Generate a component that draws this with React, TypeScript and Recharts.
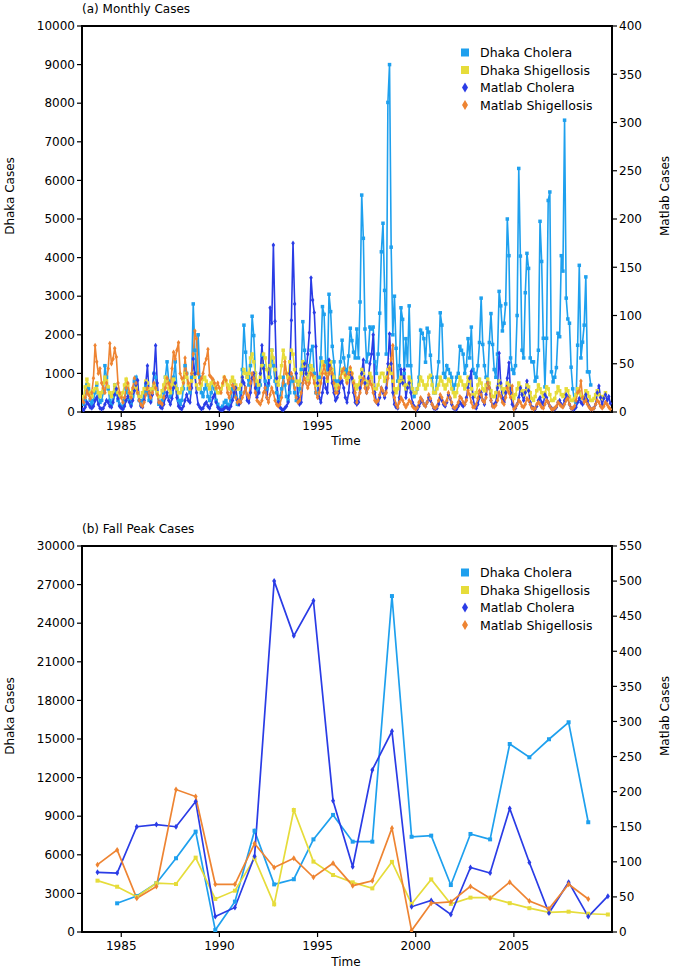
import React from 'react';
import { LineChart, Line, XAxis, YAxis, ReferenceArea } from 'recharts';

const FONT = '"DejaVu Sans", sans-serif';
const C_DC = '#1EA0EE';
const C_DS = '#E6DC3A';
const C_MC = '#2A3CE6';
const C_MS = '#EE8432';

// ---------- (a) Monthly cases, Jan 1983 .. Dec 2009 ----------
const monthlyStartYear = 1983;
// Dhaka cholera (left axis), one row per year
const dhakaCholeraMonthly: (number | null)[] = [
  300, 200, 300, 700, 600, 300, 200, 300, 500, 700, 400, 250, // 1983
  300, 500, 1200, 900, 600, 300, 200, 400, 700, 500, 300, 200, // 1984
  150, 100, 300, 600, 500, 300, 200, 400, 800, 900, 500, 300, // 1985
  200, 300, 500, 700, 500, 300, 300, 600, 1000, 900, 500, 200, // 1986
  200, 300, 500, 900, 1300, 800, 400, 500, 900, 1300, 600, 300, // 1987
  200, 300, 600, 1200, 1000, 600, 500, 900, 2800, 1600, 1000, 2000, // 1988
  900, 500, 400, 600, 700, 400, 300, 500, 800, 600, 300, 200, // 1989
  100, 100, 150, 250, 300, 200, 150, 300, 600, 700, 400, 200, // 1990
  300, 500, 1100, 2250, 1550, 900, 700, 1200, 2480, 1980, 1000, 600, // 1991
  500, 700, 1470, 1200, 800, 600, 700, 900, 1600, 1200, 800, 500, // 1992
  300, 400, 600, 900, 700, 400, 300, 500, 900, 800, 500, 300, // 1993
  400, 600, 1100, 2340, 1600, 1000, 800, 1200, 1600, 1700, 1000, 500, // 1994
  500, 900, 1400, 2730, 2530, 1300, 1000, 3050, 2600, 1700, 1300, 800, // 1995
  600, 800, 1300, 1860, 1400, 1100, 1000, 1450, 2170, 1850, 1550, 1400, // 1996
  2150, 1400, 2850, 5620, 4500, 2150, 1300, 1500, 2200, 2150, 2200, 1300, // 1997
  1000, 1500, 2560, 4150, 4890, 3150, 1500, 8020, 9000, 4270, 2000, 3000, // 1998
  1650, 800, 1200, 2700, 2400, 1000, 1900, 1200, 2750, 1200, 600, 400, // 1999
  500, 600, 900, 2120, 2040, 1900, 1290, 2170, 2070, 1470, 900, 500, // 2000
  500, 900, 1300, 2570, 2250, 1000, 900, 1200, 1100, 1000, 900, 600, // 2001
  700, 900, 1000, 1700, 1600, 1500, 1000, 1200, 1900, 1400, 2200, 1100, // 2002
  1000, 900, 1200, 1800, 2950, 1750, 1200, 900, 750, 1800, 2550, 1750, // 2003
  1100, 900, 1500, 3125, 2750, 2100, 2300, 2800, 5000, 4050, 1400, 1100, // 2004
  1000, 1200, 2500, 6310, 4040, 1600, 1400, 3090, 4110, 3720, 1400, 1300, // 2005
  1300, 800, 900, 1600, 4940, 3900, 1910, 650, 1910, 5480, 5700, 1040, // 2006
  780, 900, 1150, 2040, 1950, 4050, 3650, 7560, 2950, 2410, 2300, 1160, // 2007
  600, 300, 250, 1730, 3800, 1400, 1810, 2250, 3500, 1040, 1040, 700, // 2008
  null, null, null, null, null, null, null, null, null, null, null, null, // 2009
];
// Dhaka shigellosis (left axis)
const dhakaShigellosisMonthly: (number | null)[] = [
  300, 400, 650, 850, 700, 500, 400, 550, 600, 750, 500, 400, // 1983
  500, 750, 900, 800, 650, 500, 400, 500, 700, 600, 500, 400, // 1984
  400, 500, 700, 850, 700, 500, 400, 550, 600, 650, 500, 400, // 1985
  400, 500, 600, 800, 750, 600, 500, 600, 700, 600, 500, 400, // 1986
  400, 550, 700, 900, 800, 600, 500, 700, 850, 700, 600, 500, // 1987
  500, 600, 800, 1000, 900, 700, 600, 800, 1000, 900, 700, 600, // 1988
  600, 700, 850, 900, 800, 700, 600, 750, 800, 700, 600, 500, // 1989
  500, 600, 700, 900, 800, 700, 600, 800, 900, 800, 700, 600, // 1990
  600, 700, 900, 1100, 1000, 900, 1000, 1400, 1500, 1300, 1000, 800, // 1991
  700, 900, 1200, 1500, 1400, 1100, 900, 1200, 1600, 1400, 1100, 800, // 1992
  700, 900, 1200, 1600, 1400, 1000, 900, 1300, 1600, 1500, 1100, 800, // 1993
  700, 800, 1000, 1300, 1200, 1000, 800, 1000, 1200, 1100, 900, 700, // 1994
  700, 800, 1000, 1300, 1200, 1000, 800, 1000, 1300, 1100, 900, 700, // 1995
  600, 700, 900, 1100, 1000, 900, 800, 900, 1100, 1000, 800, 700, // 1996
  600, 700, 900, 1100, 1000, 800, 700, 800, 1000, 900, 700, 600, // 1997
  600, 700, 900, 1000, 1000, 800, 900, 1100, 1200, 1000, 800, 600, // 1998
  500, 600, 800, 900, 800, 700, 600, 700, 900, 800, 600, 500, // 1999
  500, 600, 700, 900, 800, 700, 600, 700, 900, 950, 700, 500, // 2000
  500, 600, 700, 900, 800, 700, 600, 700, 850, 800, 600, 500, // 2001
  400, 500, 700, 900, 800, 700, 600, 700, 900, 800, 600, 450, // 2002
  400, 500, 700, 850, 750, 600, 550, 700, 850, 750, 550, 400, // 2003
  400, 500, 650, 800, 700, 600, 500, 600, 750, 700, 500, 400, // 2004
  350, 450, 600, 750, 650, 550, 450, 550, 700, 650, 500, 350, // 2005
  300, 400, 550, 700, 600, 500, 400, 500, 650, 600, 450, 300, // 2006
  300, 350, 500, 650, 550, 450, 400, 450, 600, 550, 400, 300, // 2007
  300, 350, 450, 600, 500, 400, 350, 400, 550, 500, 400, 300, // 2008
  300, 350, 450, 550, 450, 400, 350, 400, 500, null, null, null, // 2009
];
// Matlab cholera (right axis)
const matlabCholeraMonthly: (number | null)[] = [
  3, 2, 5, 10, 8, 5, 4, 6, 12, 15, 8, 4, // 1983
  3, 4, 8, 12, 10, 6, 5, 10, 18, 24, 14, 6, // 1984
  4, 3, 6, 12, 16, 10, 6, 12, 22, 28, 33, 12, // 1985
  6, 5, 12, 30, 48, 20, 10, 18, 40, 69, 30, 10, // 1986
  5, 4, 8, 15, 20, 12, 8, 14, 25, 30, 15, 6, // 1987
  4, 3, 6, 12, 18, 12, 10, 25, 55, 40, 20, 8, // 1988
  5, 3, 4, 8, 10, 6, 4, 8, 15, 18, 10, 5, // 1989
  3, 2, 2, 4, 5, 4, 3, 6, 12, 20, 25, 12, // 1990
  8, 10, 36, 30, 25, 12, 10, 20, 35, 40, 25, 15, // 1991
  20, 40, 69, 45, 25, 15, 30, 108, 92, 173, 94, 35, // 1992
  10, 5, 3, 2, 4, 6, 10, 40, 95, 175, 112, 40, // 1993
  15, 8, 10, 30, 50, 40, 60, 82, 139, 116, 103, 68, // 1994
  30, 15, 10, 20, 35, 25, 20, 54, 45, 30, 20, 12, // 1995
  15, 20, 30, 32, 25, 15, 10, 20, 40, 35, 20, 10, // 1996
  8, 10, 25, 40, 54, 30, 20, 35, 50, 60, 80, 20, // 1997
  10, 8, 15, 25, 20, 15, 25, 50, 81, 50, 20, 8, // 1998
  5, 4, 15, 44, 30, 44, 15, 25, 30, 20, 10, 6, // 1999
  4, 3, 6, 10, 12, 8, 6, 10, 15, 12, 8, 4, // 2000
  3, 4, 8, 15, 12, 8, 6, 10, 18, 14, 8, 4, // 2001
  3, 3, 6, 10, 8, 6, 8, 15, 25, 35, 42, 15, // 2002
  6, 4, 8, 15, 20, 12, 8, 18, 30, 25, 12, 6, // 2003
  8, 10, 25, 61, 30, 15, 10, 20, 35, 51, 20, 8, // 2004
  5, 4, 8, 15, 25, 18, 12, 20, 32, 22, 10, 5, // 2005
  4, 3, 6, 12, 15, 10, 8, 18, 15, 10, 6, 4, // 2006
  3, 3, 5, 10, 12, 8, 6, 12, 18, 15, 8, 4, // 2007
  3, 3, 5, 10, 14, 10, 8, 14, 18, 12, 6, 3, // 2008
  3, 4, 8, 20, 27, 15, 8, 14, 18, 12, 16, 9, // 2009
];
// Matlab shigellosis (right axis)
const matlabShigellosisMonthly: (number | null)[] = [
  12, 10, 15, 22, 18, 14, 20, 35, 69, 52, 40, 45, // 1983
  30, 25, 20, 30, 45, 71, 50, 55, 66, 57, 30, 20, // 1984
  15, 10, 15, 25, 30, 20, 15, 25, 35, 30, 20, 12, // 1985
  8, 6, 10, 18, 25, 20, 15, 20, 30, 25, 18, 10, // 1986
  10, 8, 15, 25, 35, 30, 25, 45, 62, 55, 64, 72, // 1987
  40, 35, 30, 56, 40, 30, 25, 40, 60, 84, 76, 40, // 1988
  30, 35, 40, 50, 55, 65, 38, 36, 34, 30, 25, 30, // 1989
  25, 20, 30, 36, 33, 20, 15, 20, 28, 25, 15, 10, // 1990
  12, 10, 15, 20, 25, 18, 15, 30, 40, 35, 20, 12, // 1991
  10, 8, 12, 20, 25, 15, 10, 18, 25, 20, 12, 8, // 1992
  6, 8, 15, 30, 52, 40, 30, 35, 40, 35, 25, 15, // 1993
  10, 12, 20, 30, 35, 30, 25, 30, 40, 38, 30, 20, // 1994
  15, 20, 30, 40, 48, 40, 35, 40, 45, 40, 30, 20, // 1995
  20, 25, 35, 42, 45, 38, 30, 40, 46, 40, 30, 20, // 1996
  10, 15, 20, 30, 35, 25, 20, 25, 32, 28, 20, 12, // 1997
  10, 12, 18, 25, 22, 18, 20, 35, 45, 55, 69, 15, // 1998
  8, 5, 10, 15, 12, 8, 5, 8, 12, 10, 6, 4, // 1999
  3, 5, 10, 15, 12, 8, 6, 10, 18, 14, 8, 5, // 2000
  4, 6, 12, 18, 15, 10, 8, 12, 20, 15, 10, 5, // 2001
  4, 6, 10, 16, 14, 10, 8, 12, 22, 18, 10, 5, // 2002
  5, 8, 14, 22, 18, 12, 10, 15, 30, 25, 12, 6, // 2003
  5, 7, 12, 20, 16, 10, 8, 15, 25, 20, 15, 27, // 2004
  3, 5, 8, 12, 10, 6, 5, 8, 14, 12, 8, 4, // 2005
  3, 4, 8, 10, 8, 5, 4, 8, 12, 10, 6, 3, // 2006
  3, 4, 6, 10, 8, 6, 5, 8, 12, 14, 8, 4, // 2007
  4, 6, 12, 20, 22, 32, 15, 10, 12, 8, 5, 3, // 2008
  3, 4, 8, 12, 10, 6, 4, 6, 10, 8, 5, 3, // 2009
];

// ---------- (b) Fall peak cases, one per year 1983 .. 2009 ----------
const peakYears = [
  1983, 1984, 1985, 1986, 1987, 1988, 1989, 1990, 1991, 1992, 1993, 1994, 1995, 1996,
  1997, 1998, 1999, 2000, 2001, 2002, 2003, 2004, 2005, 2006, 2007, 2008, 2009,
];
const fallPeakOffset = 0.79; // peak plotted around October
const dhakaCholeraPeak: (number | null)[] = [
  null, 2230, 2800, 3790, 5730, 7800, 150, 2360, 7870, 3700, 4100, 7200, 9100, 7020,
  7020, 26110, 7400, 7490, 3650, 7620, 7200, 14610, 13580, 14980, 16300, 8530, null,
];
const dhakaShigellosisPeak: (number | null)[] = [
  3990, 3520, 2740, 3790, 3730, 5780, 2570, 3210, 5730, 2150, 9480, 5470, 4430, 3860,
  3390, 5450, 2180, 4090, 2180, 2670, 2670, 2240, 1850, 1530, 1580, 1420, 1360,
];
const matlabCholeraPeak: (number | null)[] = [
  85, 84, 150, 153, 150, 186, 22, 35, 108, 500, 422, 472, 187, 93,
  231, 286, 36, 45, 25, 92, 84, 176, 99, 27, 71, 22, 51,
];
const matlabShigellosisPeak: (number | null)[] = [
  96, 117, 48, 65, 203, 193, 68, 68, 126, 92, 105, 78, 98, 66,
  73, 148, 2, 41, 43, 65, 48, 71, 44, 33, 68, 47, null,
];

const xTicks = [1985, 1990, 1995, 2000, 2005];
const monthlyLeftTicks = [0, 1000, 2000, 3000, 4000, 5000, 6000, 7000, 8000, 9000, 10000];
const monthlyRightTicks = [0, 50, 100, 150, 200, 250, 300, 350, 400];
const peakLeftTicks = [0, 3000, 6000, 9000, 12000, 15000, 18000, 21000, 24000, 27000, 30000];
const peakRightTicks = [0, 50, 100, 150, 200, 250, 300, 350, 400, 450, 500, 550];

const seriesNames = ['Dhaka Cholera', 'Dhaka Shigellosis', 'Matlab Cholera', 'Matlab Shigellosis'];

const monthlyData = dhakaCholeraMonthly.map((v, i) => ({
  t: monthlyStartYear + i / 12,
  dc: v,
  ds: dhakaShigellosisMonthly[i],
  mc: matlabCholeraMonthly[i],
  ms: matlabShigellosisMonthly[i],
}));

const peakData = peakYears.map((y, i) => ({
  t: y + fallPeakOffset,
  dc: dhakaCholeraPeak[i],
  ds: dhakaShigellosisPeak[i],
  mc: matlabCholeraPeak[i],
  ms: matlabShigellosisPeak[i],
}));

const squareDot = (color: string, size: number, tag: string) => (props: any) => {
  const { cx, cy, index } = props;
  if (cx == null || cy == null || props.value == null) return <g key={`${tag}-${index}`} />;
  return (
    <rect key={`${tag}-${index}`} x={cx - size / 2} y={cy - size / 2} width={size} height={size} fill={color} />
  );
};
const diamondDot = (color: string, w: number, h: number, tag: string) => (props: any) => {
  const { cx, cy, index } = props;
  if (cx == null || cy == null || props.value == null) return <g key={`${tag}-${index}`} />;
  return (
    <polygon
      key={`${tag}-${index}`}
      points={`${cx},${cy - h / 2} ${cx + w / 2},${cy} ${cx},${cy + h / 2} ${cx - w / 2},${cy}`}
      fill={color}
    />
  );
};

const tickStyle = { fill: '#000', fontSize: 12, fontFamily: FONT };

type PanelProps = {
  data: any[];
  height: number;
  marginTop: number;
  marginBottom: number;
  leftMax: number;
  rightMax: number;
  leftTicks: number[];
  rightTicks: number[];
  sw: number;
  ms: number;
  tag: string;
};

function Panel(p: PanelProps) {
  return (
    <LineChart
      width={673}
      height={p.height}
      data={p.data}
      margin={{ top: p.marginTop, right: 0, left: 0, bottom: p.marginBottom }}
    >
      <XAxis
        type="number"
        dataKey="t"
        domain={[1983, 2010]}
        ticks={xTicks}
        allowDataOverflow
        height={30}
        tickSize={5}
        tickMargin={4}
        axisLine={false}
        tickLine={{ stroke: '#000', strokeWidth: 1.2 }}
        tick={tickStyle}
        interval={0}
      />
      <YAxis
        yAxisId="L"
        domain={[0, p.leftMax]}
        ticks={p.leftTicks}
        allowDataOverflow
        width={82}
        tickSize={5}
        tickMargin={2}
        axisLine={false}
        tickLine={{ stroke: '#000', strokeWidth: 1.2 }}
        tick={tickStyle}
        interval={0}
      />
      <YAxis
        yAxisId="R"
        orientation="right"
        domain={[0, p.rightMax]}
        ticks={p.rightTicks}
        allowDataOverflow
        width={61}
        tickSize={5}
        tickMargin={2}
        axisLine={false}
        tickLine={{ stroke: '#000', strokeWidth: 1.2 }}
        tick={tickStyle}
        interval={0}
      />
      <Line
        yAxisId="L"
        dataKey="dc"
        name={seriesNames[0]}
        stroke={C_DC}
        strokeWidth={p.sw}
        dot={squareDot(C_DC, p.ms, p.tag + 'dc')}
        activeDot={false}
        isAnimationActive={false}
        type="linear"
      />
      <Line
        yAxisId="L"
        dataKey="ds"
        name={seriesNames[1]}
        stroke={C_DS}
        strokeWidth={p.sw}
        dot={squareDot(C_DS, p.ms, p.tag + 'ds')}
        activeDot={false}
        isAnimationActive={false}
        type="linear"
      />
      <Line
        yAxisId="R"
        dataKey="mc"
        name={seriesNames[2]}
        stroke={C_MC}
        strokeWidth={p.sw}
        dot={diamondDot(C_MC, p.ms, p.ms * 1.5, p.tag + 'mc')}
        activeDot={false}
        isAnimationActive={false}
        type="linear"
      />
      <Line
        yAxisId="R"
        dataKey="ms"
        name={seriesNames[3]}
        stroke={C_MS}
        strokeWidth={p.sw}
        dot={diamondDot(C_MS, p.ms, p.ms * 1.5, p.tag + 'ms')}
        activeDot={false}
        isAnimationActive={false}
        type="linear"
      />
      <ReferenceArea
        yAxisId="L"
        x1={1983}
        x2={2010}
        y1={0}
        y2={p.leftMax}
        fill="none"
        fillOpacity={0}
        stroke="#000"
        strokeWidth={2}
        ifOverflow="visible"
      />
    </LineChart>
  );
}

const legendColors = [C_DC, C_DS, C_MC, C_MS];

function LegendBlock({ top }: { top: number }) {
  const rows = [0, 17.5, 35, 52.5];
  return (
    <g>
      {seriesNames.map((name, i) => {
        const y = top + rows[i];
        const c = legendColors[i];
        return (
          <g key={name}>
            {i < 2 ? (
              <rect x={461} y={y - 4} width={8} height={8} fill={c} />
            ) : (
              <polygon points={`465,${y - 5} 468,${y} 465,${y + 5} 462,${y}`} fill={c} />
            )}
            <text x={480} y={y} dominantBaseline="central" fontSize={12.5} fontFamily={FONT} fill="#000">
              {name}
            </text>
          </g>
        );
      })}
    </g>
  );
}

export default function App() {
  return (
    <div style={{ position: 'absolute', left: 0, top: 0, width: 673, height: 970, background: '#fff' }}>
      <div style={{ position: 'absolute', left: 0, top: 0 }}>
        <Panel
          data={monthlyData}
          height={470}
          marginTop={26}
          marginBottom={28}
          leftMax={10000}
          rightMax={400}
          leftTicks={monthlyLeftTicks}
          rightTicks={monthlyRightTicks}
          sw={1.6}
          ms={3.5}
          tag="a"
        />
      </div>
      <div style={{ position: 'absolute', left: 0, top: 470 }}>
        <Panel
          data={peakData}
          height={500}
          marginTop={76}
          marginBottom={8}
          leftMax={30000}
          rightMax={550}
          leftTicks={peakLeftTicks}
          rightTicks={peakRightTicks}
          sw={1.7}
          ms={4}
          tag="b"
        />
      </div>
      <svg
        width={673}
        height={970}
        style={{ position: 'absolute', left: 0, top: 0, pointerEvents: 'none' }}
      >
        <text x={82} y={13} fontSize={12} fontFamily={FONT} fill="#000">(a) Monthly Cases</text>
        <text x={82} y={533} fontSize={12} fontFamily={FONT} fill="#000">(b) Fall Peak Cases</text>
        <text
          x={10}
          y={196}
          transform="rotate(-90 10 196)"
          textAnchor="middle"
          dominantBaseline="central"
          fontSize={12}
          fontFamily={FONT}
          fill="#000"
        >
          Dhaka Cases
        </text>
        <text
          x={665}
          y={196}
          transform="rotate(-90 665 196)"
          textAnchor="middle"
          dominantBaseline="central"
          fontSize={12}
          fontFamily={FONT}
          fill="#000"
        >
          Matlab Cases
        </text>
        <text
          x={10}
          y={716}
          transform="rotate(-90 10 716)"
          textAnchor="middle"
          dominantBaseline="central"
          fontSize={12}
          fontFamily={FONT}
          fill="#000"
        >
          Dhaka Cases
        </text>
        <text
          x={665}
          y={716}
          transform="rotate(-90 665 716)"
          textAnchor="middle"
          dominantBaseline="central"
          fontSize={12}
          fontFamily={FONT}
          fill="#000"
        >
          Matlab Cases
        </text>
        <text x={346} y={441} textAnchor="middle" dominantBaseline="central" fontSize={12} fontFamily={FONT} fill="#000">
          Time
        </text>
        <text x={346} y={962} textAnchor="middle" dominantBaseline="central" fontSize={12} fontFamily={FONT} fill="#000">
          Time
        </text>
        <LegendBlock top={52.5} />
        <LegendBlock top={572.5} />
      </svg>
    </div>
  );
}
